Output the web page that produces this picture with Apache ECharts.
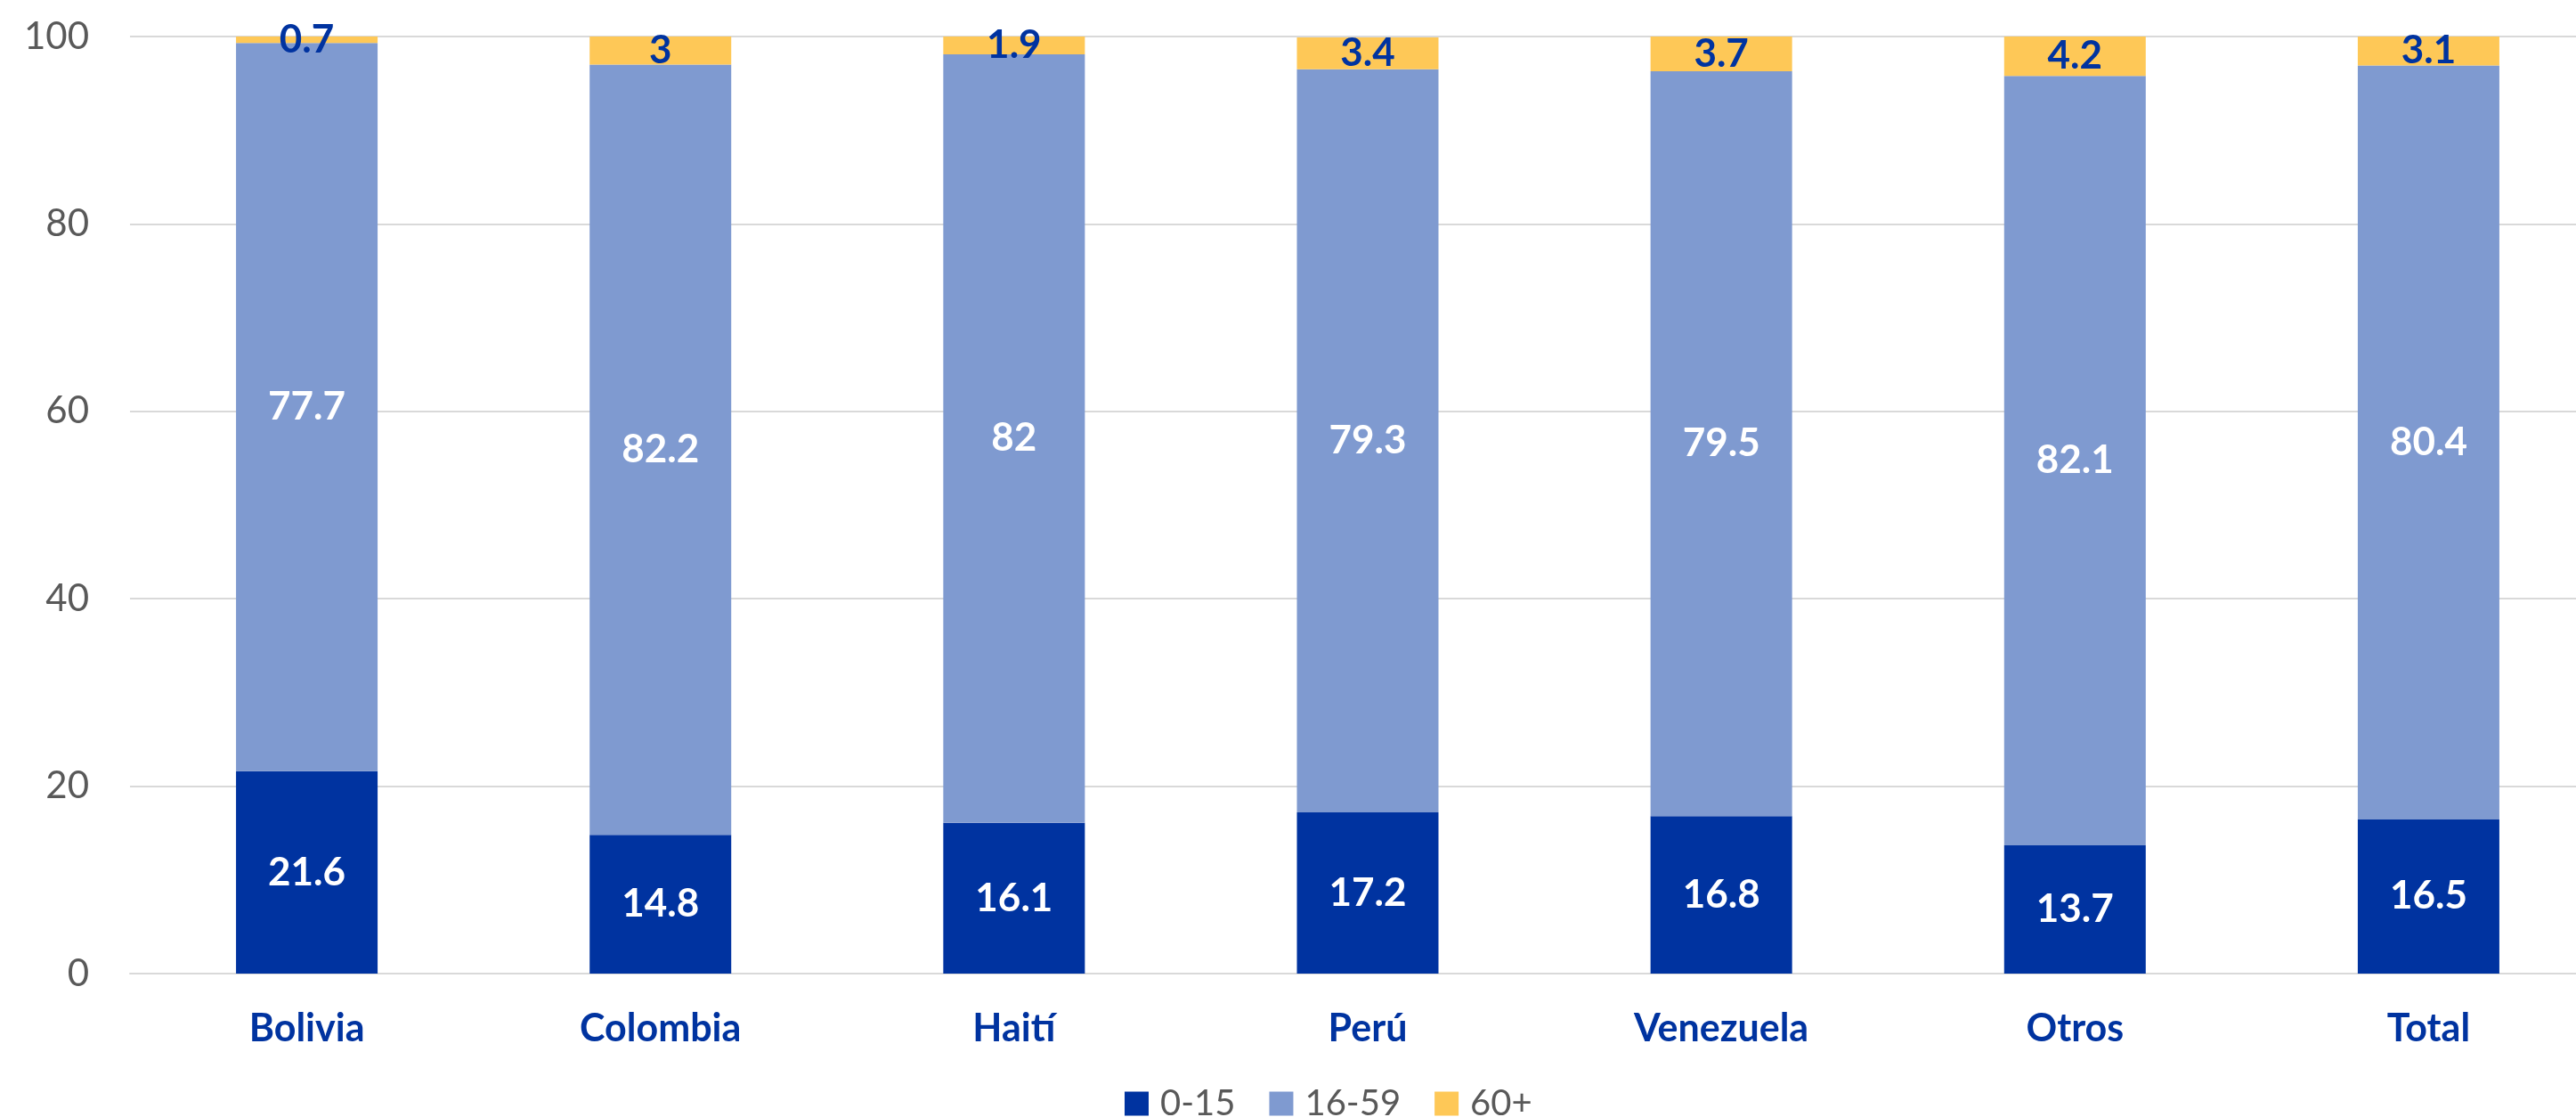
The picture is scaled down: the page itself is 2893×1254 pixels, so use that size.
<!DOCTYPE html>
<html>
<head>
<meta charset="utf-8">
<script src="https://cdn.jsdelivr.net/npm/echarts@6/dist/echarts.min.js"></script>
<style>
  html, body { margin: 0; padding: 0; background: #ffffff; overflow: hidden; }
  /* chart is wider than the window: the plot runs past the right edge, as in the original */
  #chart { width: 2926px; height: 1254px; }
</style>
</head>
<body>
<div id="chart"></div>
<script>
// categories and series values
const categories = ["Bolivia", "Colombia", "Haití", "Perú", "Venezuela", "Otros", "Total"];
const age0to15 = [21.6, 14.8, 16.1, 17.2, 16.8, 13.7, 16.5];
const age16to59 = [77.7, 82.2, 82, 79.3, 79.5, 82.1, 80.4];
const age60plus = [0.7, 3, 1.9, 3.4, 3.7, 4.2, 3.1];
const seriesNames = ["0-15", "16-59", "60+"];

const FONT = "Lato, 'Open Sans', sans-serif";
const DARK_BLUE = "#0033a0";

const chart = echarts.init(document.getElementById("chart"));

function makeSeries(name, data, color, labelColor) {
  return {
    name: name,
    type: "bar",
    stack: "total",
    barWidth: 159,
    data: data,
    itemStyle: { color: color },
    label: {
      show: true,
      position: "inside",
      color: labelColor,
      fontFamily: FONT,
      fontWeight: "bold",
      fontSize: 44
    }
  };
}

const option = {
  animation: false,
  backgroundColor: "#ffffff",
  grid: {
    left: 146,
    top: 41,
    right: 0,
    height: 1052
  },
  legend: {
    left: 1258,
    top: 1214,
    itemWidth: 27,
    itemHeight: 27,
    itemGap: 38,
    icon: "rect",
    data: seriesNames,
    textStyle: {
      color: "#595959",
      fontFamily: FONT,
      fontSize: 40,
      padding: [0, 0, 0, 8]
    }
  },
  xAxis: {
    type: "category",
    data: categories,
    axisLine: { show: true, lineStyle: { color: "#d9d9d9", width: 2 } },
    axisTick: { show: false },
    axisLabel: {
      color: DARK_BLUE,
      fontFamily: FONT,
      fontWeight: "bold",
      fontSize: 43,
      margin: 41
    }
  },
  yAxis: {
    type: "value",
    min: 0,
    max: 100,
    interval: 20,
    axisLine: { show: false },
    axisTick: { show: false },
    axisLabel: {
      color: "#595959",
      fontFamily: FONT,
      fontSize: 42,
      margin: 46
    },
    splitLine: { lineStyle: { color: "#d9d9d9", width: 2 } }
  },
  series: [
    makeSeries(seriesNames[0], age0to15, DARK_BLUE, "#ffffff"),
    makeSeries(seriesNames[1], age16to59, "#7f9ad0", "#ffffff"),
    makeSeries(seriesNames[2], age60plus, "#fec857", DARK_BLUE)
  ]
};

chart.setOption(option);
window.addEventListener("resize", () => chart.resize());
</script>
</body>
</html>
